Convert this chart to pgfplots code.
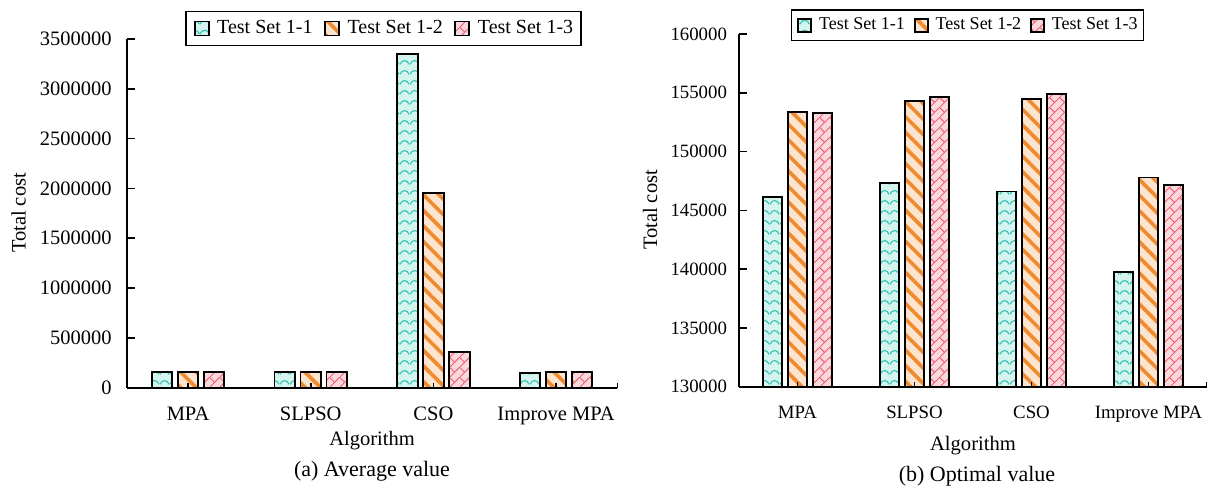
\documentclass[border=0pt]{standalone}
\usepackage{fontspec}
\setmainfont{Liberation Serif}
\usepackage{pgfplots}
\pgfplotsset{compat=1.18}
\usetikzlibrary{patterns,patterns.meta}

\definecolor{tealfill}{HTML}{D3F4EF}
\definecolor{tealline}{HTML}{35C2B2}
\definecolor{orgfill}{HTML}{FDE4CE}
\definecolor{orgline}{HTML}{EF8A2E}
\definecolor{pinkfill}{HTML}{FAD8DD}
\definecolor{pinkline}{HTML}{EE6172}

\pgfdeclarepattern{
  name=waves,
  type=uncolored,
  bottom left={\pgfpoint{0pt}{0pt}},
  top right={\pgfpoint{5pt}{5pt}},
  tile size={\pgfpoint{5pt}{5pt}},
  code={
    \pgfsetlinewidth{0.6pt}
    \pgfpathmoveto{\pgfpoint{0pt}{1.5pt}}
    \pgfpathcurveto{\pgfpoint{1.2pt}{4.2pt}}{\pgfpoint{3.8pt}{4.2pt}}{\pgfpoint{5pt}{1.5pt}}
    \pgfusepath{stroke}
  }
}
\pgfdeclarepattern{
  name=bricks,
  type=uncolored,
  bottom left={\pgfpoint{0pt}{0pt}},
  top right={\pgfpoint{5pt}{5pt}},
  tile size={\pgfpoint{5pt}{5pt}},
  code={
    \pgfsetlinewidth{0.5pt}
    \pgfpathmoveto{\pgfpoint{-0.5pt}{-0.5pt}}
    \pgfpathlineto{\pgfpoint{5.5pt}{5.5pt}}
    \pgfpathmoveto{\pgfpoint{-0.3pt}{5.3pt}}
    \pgfpathlineto{\pgfpoint{2.5pt}{2.5pt}}
    \pgfusepath{stroke}
  }
}

\pgfplotsset{
  set11/.style={draw=black, line width=0.9pt,
    preaction={fill=tealfill}, preaction={pattern=waves, pattern color=tealline}},
  set12/.style={draw=black, line width=0.9pt,
    preaction={fill=orgfill}, preaction={pattern={Lines[angle=-45,distance=5.5pt,line width=1.8pt]}, pattern color=orgline}},
  set13/.style={draw=black, line width=0.9pt,
    preaction={fill=pinkfill}, preaction={pattern=bricks, pattern color=pinkline}},
  sqlegendA/.style={legend image code/.code={\draw[##1] (0pt,-3.5pt) rectangle (7pt,3.5pt);}},
  sqlegendB/.style={legend image code/.code={\draw[##1] (0pt,-3.25pt) rectangle (6.5pt,3.25pt);}},
  common/.style={
    scale only axis, enlargelimits=false,
    xmin=-0.5, xmax=3.5,
    axis x line*=bottom, axis y line*=left,
    axis line style={line width=0.9pt, black},
    axis on top,
    xtick={0,1,2,3}, xticklabels={MPA,SLPSO,CSO,Improve MPA},
    major x tick style={draw=none},
    minor xtick={0,1,2,3,3.5}, minor tick length=2.5pt,
    minor x tick style={line width=0.8pt, black},
    major tick length=4pt, tick align=inside,
    major y tick style={line width=0.8pt, black},
    scaled y ticks=false,
    legend columns=3,
  },
}

\begin{document}
\begin{tikzpicture}
\path[use as bounding box] (0,0) rectangle (603.5pt,243.5pt);

% ---------------- left: average value
\begin{axis}[common,
  at={(63.35pt,49.65pt)}, anchor=south west,
  width=245.35pt, height=174.35pt,
  ymin=0, ymax=3500000,
  ytick={0,500000,1000000,1500000,2000000,2500000,3000000,3500000},
  yticklabel style={/pgf/number format/fixed, /pgf/number format/1000 sep={}, /pgf/number format/assume math mode=true, xshift=-4pt, font=\fontsize{10.25}{12}\selectfont},
  xticklabel style={yshift=-6pt, font=\fontsize{10.25}{12}\selectfont},
  legend style={at={(0.5233,1.030)}, anchor=center, draw=black, line width=0.8pt, fill=white,
    inner xsep=3.85pt, inner ysep=4.5pt,
    nodes={inner sep=0pt, font=\fontsize{10}{12}\selectfont},
    /tikz/every odd column/.append style={column sep=3.85pt},
    /tikz/every even column/.append style={column sep=5.8pt}},
]
\addplot[ybar, bar width=10.3pt, bar shift=-13pt, set11, sqlegendA] coordinates {(0,155000) (1,156000) (2,3351000) (3,144000)};
\addplot[ybar, bar width=10.3pt, bar shift=0pt, set12, sqlegendA] coordinates {(0,160000) (1,160000) (2,1958000) (3,154000)};
\addplot[ybar, bar width=10.3pt, bar shift=13pt, set13, sqlegendA] coordinates {(0,160000) (1,160000) (2,358000) (3,154000)};
\legend{Test Set 1-1, Test Set 1-2, Test Set 1-3}
\end{axis}

% ---------------- right: optimal value
\begin{axis}[common,
  at={(369.5pt,50.15pt)}, anchor=south west,
  width=234pt, height=176.35pt,
  ymin=130000, ymax=160000,
  ytick={130000,135000,140000,145000,150000,155000,160000},
  yticklabel style={/pgf/number format/fixed, /pgf/number format/1000 sep={}, /pgf/number format/assume math mode=true, xshift=-2.5pt, font=\fontsize{9.4}{11}\selectfont},
  xticklabel style={yshift=-6pt, font=\fontsize{9.4}{11}\selectfont},
  legend style={at={(0.4882,1.025)}, anchor=center, draw=black, line width=0.8pt, fill=white,
    inner xsep=3pt, inner ysep=4pt,
    nodes={inner sep=0pt, font=\fontsize{9}{11}\selectfont},
    /tikz/every odd column/.append style={column sep=3.5pt},
    /tikz/every even column/.append style={column sep=4.4pt}},
]
\addplot[ybar, bar width=9.8pt, bar shift=-12.5pt, set11, sqlegendB] coordinates {(0,146160) (1,147350) (2,146600) (3,139730)};
\addplot[ybar, bar width=9.8pt, bar shift=0pt, set12, sqlegendB] coordinates {(0,153360) (1,154320) (2,154440) (3,147800)};
\addplot[ybar, bar width=9.8pt, bar shift=12.5pt, set13, sqlegendB] coordinates {(0,153250) (1,154630) (2,154920) (3,147180)};
\legend{Test Set 1-1, Test Set 1-2, Test Set 1-3}
\end{axis}

\node[anchor=base, font=\fontsize{10.25}{12}\selectfont] at (186pt,20.5pt) {Algorithm};
\node[anchor=base, font=\fontsize{11}{13}\selectfont] at (186pt,5pt) {(a) Average value};
\node[anchor=base, font=\fontsize{10.3}{12}\selectfont] at (486.5pt,18pt) {Algorithm};
\node[anchor=base, font=\fontsize{11}{13}\selectfont] at (488.5pt,2.65pt) {(b) Optimal value};
\node[rotate=90, font=\fontsize{10.25}{12}\selectfont] at (9.35pt,137pt) {Total cost};
\node[rotate=90, font=\fontsize{10.25}{12}\selectfont] at (325pt,138.5pt) {Total cost};
\end{tikzpicture}
\end{document}
